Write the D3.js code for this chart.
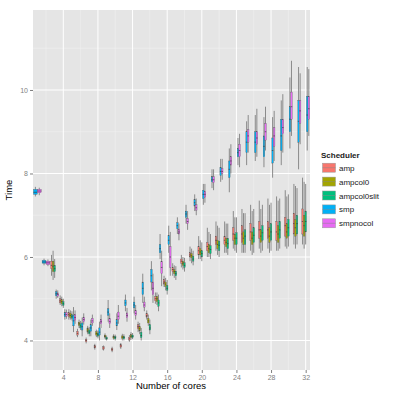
<!DOCTYPE html>
<html>
<head>
  <title>Time vs cores</title>
  <script src="https://d3js.org/d3.v7.min.js"></script>
  <style>
    body { margin: 0; background: #fff; }
    .tick text { font: 7px "Liberation Sans", Arial, sans-serif; fill: #7f7f7f; }
    .axis-title { font: 9.5px "Liberation Sans", Arial, sans-serif; fill: #000; }
    .legend text { font: 8px "Liberation Sans", Arial, sans-serif; fill: #1a1a1a; }
  </style>
</head>
<body>
  <script>
    var width = 400,
        height = 400;

    // schedulers, in legend / dodge order
    var schedulers = ["amp", "ampcol0", "ampcol0slit", "smp", "smpnocol"];
    var colors = ["#F8766D", "#A3A500", "#00BF7D", "#00B0F6", "#E76BF3"];

    var xTicks = [4, 8, 12, 16, 20, 24, 28, 32];
    var yTicks = [4, 6, 8, 10];

    // first core count measured for each scheduler
    var firstCore = [3, 3, 3, 1, 1];

    // per core: [lower whisker, q1, median, q3, upper whisker]
    var amp = [
      [5.55, 5.72, 5.8, 5.9, 6.05], [4.85, 4.9, 4.95, 5.0, 5.08], [4.5, 4.57, 4.62, 4.67, 4.75],
      [4.08, 4.13, 4.17, 4.22, 4.28], [3.93, 3.97, 4.0, 4.03, 4.07], [3.78, 3.82, 3.85, 3.88, 3.92],
      [3.76, 3.79, 3.82, 3.85, 3.88], [3.72, 3.76, 3.78, 3.81, 3.85], [3.8, 3.84, 3.87, 3.9, 3.94],
      [3.97, 4.01, 4.04, 4.08, 4.13], [4.2, 4.28, 4.33, 4.38, 4.45], [4.5, 4.56, 4.6, 4.65, 4.72],
      [4.88, 4.95, 5.0, 5.05, 5.15], [5.28, 5.35, 5.4, 5.46, 5.55], [5.55, 5.65, 5.7, 5.75, 5.85],
      [5.75, 5.85, 5.9, 5.95, 6.05], [5.9, 6.0, 6.05, 6.1, 6.25], [5.95, 6.05, 6.15, 6.25, 6.5],
      [6.0, 6.15, 6.25, 6.35, 6.7], [6.15, 6.3, 6.4, 6.5, 6.85], [6.1, 6.3, 6.4, 6.5, 6.85],
      [6.2, 6.4, 6.55, 6.7, 7.1], [6.1, 6.35, 6.55, 6.75, 7.15], [6.15, 6.4, 6.6, 6.8, 7.25],
      [6.2, 6.45, 6.65, 6.85, 7.35], [6.2, 6.45, 6.65, 6.85, 7.4], [6.15, 6.4, 6.6, 6.85, 7.45],
      [6.25, 6.5, 6.75, 6.95, 7.6], [6.3, 6.55, 6.8, 7.05, 7.75], [6.3, 6.55, 6.85, 7.15, 7.9]
    ];
    var ampcol0 = [
      [5.45, 5.65, 5.78, 5.9, 6.15], [4.82, 4.88, 4.93, 4.98, 5.05], [4.5, 4.55, 4.6, 4.65, 4.72],
      [4.3, 4.36, 4.4, 4.44, 4.5], [4.15, 4.2, 4.25, 4.3, 4.35], [4.08, 4.13, 4.17, 4.21, 4.26],
      [4.04, 4.08, 4.1, 4.13, 4.17], [4.02, 4.05, 4.08, 4.11, 4.15], [4.0, 4.05, 4.08, 4.11, 4.16],
      [4.02, 4.07, 4.1, 4.14, 4.2], [4.15, 4.23, 4.28, 4.33, 4.42], [4.35, 4.42, 4.47, 4.53, 4.62],
      [4.85, 4.93, 5.0, 5.06, 5.15], [5.2, 5.3, 5.35, 5.4, 5.5], [5.5, 5.6, 5.65, 5.7, 5.8],
      [5.7, 5.8, 5.85, 5.9, 6.0], [5.85, 5.98, 6.03, 6.08, 6.2], [5.95, 6.05, 6.12, 6.2, 6.4],
      [6.0, 6.1, 6.2, 6.3, 6.6], [6.05, 6.2, 6.3, 6.4, 6.75], [6.1, 6.25, 6.35, 6.45, 6.8],
      [6.15, 6.3, 6.45, 6.55, 6.95], [6.1, 6.3, 6.45, 6.6, 7.05], [6.05, 6.3, 6.45, 6.6, 7.1],
      [6.1, 6.35, 6.5, 6.65, 7.15], [6.1, 6.35, 6.5, 6.7, 7.25], [6.15, 6.35, 6.55, 6.75, 7.35],
      [6.2, 6.45, 6.6, 6.8, 7.45], [6.2, 6.5, 6.7, 6.9, 7.7], [6.2, 6.5, 6.75, 7.0, 7.8]
    ];
    var ampcol0slit = [
      [5.5, 5.65, 5.72, 5.8, 5.95], [4.78, 4.84, 4.88, 4.93, 5.0], [4.48, 4.53, 4.57, 4.62, 4.7],
      [4.25, 4.3, 4.35, 4.4, 4.47], [4.1, 4.16, 4.2, 4.25, 4.32], [4.05, 4.1, 4.14, 4.18, 4.24],
      [4.0, 4.03, 4.05, 4.08, 4.12], [4.0, 4.04, 4.07, 4.1, 4.14], [4.0, 4.04, 4.07, 4.1, 4.15],
      [4.03, 4.07, 4.1, 4.13, 4.18], [4.0, 4.07, 4.12, 4.2, 4.3], [4.15, 4.25, 4.3, 4.38, 4.5],
      [4.7, 4.82, 4.9, 4.97, 5.1], [5.1, 5.2, 5.25, 5.32, 5.45], [5.45, 5.55, 5.6, 5.66, 5.78],
      [5.65, 5.75, 5.8, 5.86, 5.98], [5.8, 5.9, 5.95, 6.02, 6.15], [5.9, 6.0, 6.08, 6.15, 6.35],
      [5.95, 6.08, 6.18, 6.27, 6.55], [6.0, 6.15, 6.28, 6.38, 6.7], [6.05, 6.2, 6.32, 6.45, 6.8],
      [6.1, 6.3, 6.45, 6.58, 6.95], [6.1, 6.3, 6.5, 6.65, 7.05], [6.1, 6.35, 6.52, 6.7, 7.15],
      [6.15, 6.4, 6.58, 6.75, 7.25], [6.15, 6.4, 6.6, 6.8, 7.3], [6.2, 6.45, 6.65, 6.85, 7.4],
      [6.25, 6.5, 6.7, 6.9, 7.5], [6.3, 6.55, 6.8, 7.0, 7.65], [6.3, 6.6, 6.85, 7.1, 7.75]
    ];
    var smp = [
      [7.45, 7.5, 7.55, 7.62, 7.68], [5.8, 5.85, 5.88, 5.92, 5.96], [5.0, 5.07, 5.12, 5.17, 5.22],
      [4.5, 4.57, 4.62, 4.67, 4.75], [4.2, 4.35, 4.47, 4.6, 4.8], [4.1, 4.25, 4.33, 4.42, 4.55],
      [4.1, 4.22, 4.3, 4.38, 4.5], [4.0, 4.13, 4.2, 4.3, 4.45], [4.45, 4.6, 4.68, 4.76, 4.97],
      [4.25, 4.35, 4.42, 4.5, 4.65], [4.7, 4.83, 4.9, 4.97, 5.1], [4.65, 4.78, 4.85, 4.92, 5.05],
      [4.9, 5.1, 5.25, 5.4, 5.6], [5.2, 5.4, 5.55, 5.7, 5.9], [5.95, 6.1, 6.2, 6.3, 6.55],
      [6.1, 6.3, 6.4, 6.52, 6.75], [6.55, 6.68, 6.75, 6.82, 6.95], [6.8, 6.95, 7.03, 7.1, 7.25],
      [7.1, 7.22, 7.3, 7.38, 7.5], [7.25, 7.4, 7.5, 7.6, 7.75], [7.65, 7.8, 7.85, 7.92, 8.1],
      [7.8, 7.95, 8.05, 8.15, 8.35], [7.55, 7.9, 8.1, 8.3, 8.6], [8.2, 8.4, 8.5, 8.6, 8.85],
      [8.2, 8.5, 8.75, 9.0, 9.25], [8.3, 8.5, 8.75, 9.0, 9.4], [8.15, 8.4, 8.65, 8.9, 9.35],
      [7.9, 8.25, 8.55, 8.85, 9.35], [8.2, 8.55, 8.9, 9.3, 9.75], [8.6, 9.0, 9.3, 9.6, 10.3],
      [8.1, 8.75, 9.25, 9.75, 10.55], [8.55, 9.0, 9.4, 9.85, 10.55]
    ];
    var smpnocol = [
      [7.48, 7.54, 7.58, 7.62, 7.66], [5.78, 5.82, 5.86, 5.9, 5.94], [5.02, 5.06, 5.1, 5.14, 5.2],
      [4.52, 4.58, 4.62, 4.67, 4.74], [4.4, 4.48, 4.55, 4.62, 4.72], [4.38, 4.45, 4.5, 4.56, 4.65],
      [4.35, 4.42, 4.47, 4.53, 4.62], [4.3, 4.4, 4.45, 4.5, 4.62], [4.3, 4.4, 4.45, 4.52, 4.65],
      [4.4, 4.5, 4.58, 4.68, 4.85], [4.45, 4.55, 4.6, 4.66, 4.78], [4.5, 4.6, 4.65, 4.72, 4.85],
      [4.7, 4.8, 4.85, 4.92, 5.05], [4.9, 5.1, 5.25, 5.4, 5.6], [5.3, 5.6, 5.75, 5.9, 6.15],
      [5.55, 5.75, 6.0, 6.25, 6.6], [6.4, 6.55, 6.6, 6.67, 6.8], [6.65, 6.8, 6.85, 6.92, 7.1],
      [7.0, 7.12, 7.18, 7.25, 7.4], [7.3, 7.43, 7.5, 7.57, 7.75], [7.6, 7.78, 7.85, 7.92, 8.1],
      [7.85, 8.0, 8.05, 8.12, 8.35], [8.0, 8.2, 8.3, 8.4, 8.7], [8.15, 8.4, 8.55, 8.7, 8.95],
      [8.5, 8.75, 8.9, 9.05, 9.4], [8.4, 8.7, 8.85, 9.0, 9.55], [8.55, 8.8, 9.0, 9.2, 9.6],
      [8.3, 8.65, 8.9, 9.1, 9.5], [8.5, 8.95, 9.1, 9.3, 9.9], [8.9, 9.3, 9.6, 9.95, 10.7],
      [8.7, 9.2, 9.5, 9.75, 10.4], [8.9, 9.3, 9.55, 9.85, 10.5]
    ];
    var seriesData = [amp, ampcol0, ampcol0slit, smp, smpnocol];

    // flatten into one record per box
    var boxes = [];
    seriesData.forEach(function(arr, si) {
      arr.forEach(function(s, j) {
        boxes.push({ s: si, core: firstCore[si] + j, lo: s[0], q1: s[1], med: s[2], q3: s[3], hi: s[4] });
      });
    });
    // dodge: split 0.9 of a core between the schedulers present at that core
    var byCore = d3.group(boxes, function(d) { return d.core; });
    byCore.forEach(function(list) {
      list.sort(function(a, b) { return a.s - b.s; });
      var n = list.length, w = 0.9 / n;
      list.forEach(function(d, k) {
        d.w = w;
        d.cx = d.core + (k - (n - 1) / 2) * w;
      });
    });

    var panel = { left: 33, right: 310, top: 10, bottom: 370 };

    var x = d3.scaleLinear().domain([0.5, 32.5]).range([panel.left, panel.right]);
    var y = d3.scaleLinear().domain([3.293, 11.916]).range([panel.bottom, panel.top]);

    var svg = d3.select("body").append("svg")
        .attr("width", width)
        .attr("height", height);

    svg.append("rect").attr("width", width).attr("height", height).attr("fill", "#fff");

    svg.append("rect")
        .attr("x", panel.left).attr("y", panel.top)
        .attr("width", panel.right - panel.left)
        .attr("height", panel.bottom - panel.top)
        .attr("fill", "#E5E5E5");

    // minor grid
    var xMinor = [2, 6, 10, 14, 18, 22, 26, 30];
    var yMinor = [5, 7, 9, 11];
    svg.selectAll(".xminor").data(xMinor).enter().append("line")
        .attr("x1", x).attr("x2", x)
        .attr("y1", panel.top).attr("y2", panel.bottom)
        .attr("stroke", "#F2F2F2").attr("stroke-width", 0.5);
    svg.selectAll(".yminor").data(yMinor).enter().append("line")
        .attr("y1", y).attr("y2", y)
        .attr("x1", panel.left).attr("x2", panel.right)
        .attr("stroke", "#F2F2F2").attr("stroke-width", 0.5);
    // major grid
    svg.selectAll(".xmajor").data(xTicks).enter().append("line")
        .attr("x1", x).attr("x2", x)
        .attr("y1", panel.top).attr("y2", panel.bottom)
        .attr("stroke", "#fff").attr("stroke-width", 1);
    svg.selectAll(".ymajor").data(yTicks).enter().append("line")
        .attr("y1", y).attr("y2", y)
        .attr("x1", panel.left).attr("x2", panel.right)
        .attr("stroke", "#fff").attr("stroke-width", 1);

    // boxplots
    var g = svg.append("g");
    var box = g.selectAll(".box").data(boxes).enter().append("g");

    box.append("line")
        .attr("x1", function(d) { return x(d.cx); })
        .attr("x2", function(d) { return x(d.cx); })
        .attr("y1", function(d) { return y(d.lo); })
        .attr("y2", function(d) { return y(d.hi); })
        .attr("stroke", "#8a8a8a").attr("stroke-width", 1);

    box.append("rect")
        .attr("x", function(d) { return x(d.cx - d.w / 2); })
        .attr("width", function(d) { return x(d.cx + d.w / 2) - x(d.cx - d.w / 2); })
        .attr("y", function(d) { return y(d.q3); })
        .attr("height", function(d) { return Math.max(1, y(d.q1) - y(d.q3)); })
        .attr("fill", function(d) { return colors[d.s]; })
        .attr("stroke", "#555").attr("stroke-width", 0.3);

    box.append("line")
        .attr("x1", function(d) { return x(d.cx - d.w / 2); })
        .attr("x2", function(d) { return x(d.cx + d.w / 2); })
        .attr("y1", function(d) { return y(d.med); })
        .attr("y2", function(d) { return y(d.med); })
        .attr("stroke", "#333").attr("stroke-width", 0.6);

    // axes
    var xAxis = svg.append("g")
        .attr("transform", "translate(0," + panel.bottom + ")")
        .call(d3.axisBottom(x).tickValues(xTicks).tickSize(3).tickPadding(2).tickFormat(d3.format("d")));
    var yAxis = svg.append("g")
        .attr("transform", "translate(" + panel.left + ",0)")
        .call(d3.axisLeft(y).tickValues(yTicks).tickSize(3).tickPadding(2).tickFormat(d3.format("d")));
    [xAxis, yAxis].forEach(function(a) {
      a.select(".domain").remove();
      a.selectAll(".tick line").attr("stroke", "#7f7f7f");
    });

    svg.append("text").attr("class", "axis-title")
        .attr("x", 171).attr("y", 389)
        .attr("text-anchor", "middle")
        .text("Number of cores");
    svg.append("text").attr("class", "axis-title")
        .attr("transform", "translate(12," + ((panel.top + panel.bottom) / 2) + ") rotate(-90)")
        .attr("text-anchor", "middle")
        .text("Time");

    // legend
    var legend = svg.append("g").attr("class", "legend").attr("transform", "translate(321,158)");
    legend.append("text")
        .attr("x", 0).attr("y", 0)
        .style("font-weight", "bold")
        .text("Scheduler");
    var item = legend.selectAll(".item").data(schedulers).enter().append("g")
        .attr("transform", function(d, i) { return "translate(0," + (9.7 + i * 13.9) + ")"; });
    item.append("rect")
        .attr("x", 1.5).attr("y", -4.5).attr("width", 13).attr("height", 9)
        .attr("fill", function(d, i) { return colors[i]; })
        .attr("stroke", "#999").attr("stroke-width", 0.5);
    item.append("line")
        .attr("x1", 1.5).attr("x2", 14.5).attr("y1", 0).attr("y2", 0)
        .attr("stroke", "#888").attr("stroke-width", 0.5);
    item.append("text")
        .attr("x", 18).attr("y", 3)
        .text(function(d) { return d; });
  </script>
</body>
</html>
